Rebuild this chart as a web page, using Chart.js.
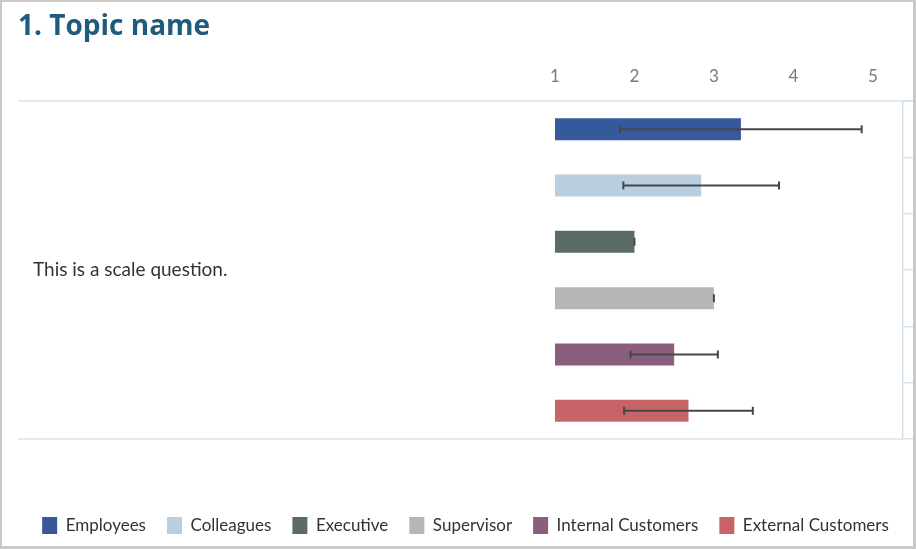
<!DOCTYPE html>
<html>
<head>
<meta charset="utf-8">
<script src="https://cdn.jsdelivr.net/npm/chart.js@4.4.1/dist/chart.umd.min.js"></script>
<style>
  html, body { margin: 0; padding: 0; background: #fff; }
  #wrap {
    width: 916px; height: 549px; box-sizing: border-box;
    border: 2px solid #c9c9c9; border-right-width: 3px; border-bottom-width: 3px;
  }
  #wrap canvas { display: block; }
</style>
</head>
<body>
<div id="wrap"><canvas id="scaleChart" width="911" height="544"></canvas></div>
<script>
// chart data
const topic = '1. Topic name';
const question = 'This is a scale question.';
const groups = ['Employees', 'Colleagues', 'Executive', 'Supervisor', 'Internal Customers', 'External Customers'];
const means = [3.34, 2.84, 2.0, 3.0, 2.5, 2.68];
const spread = [1.52, 0.98, 0, 0, 0.55, 0.81];   // +/- error bar width
const groupColors = ['#35599b', '#b9cedf', '#5b6b65', '#b6b5b7', '#8c5e7d', '#c86468'];
const scaleTicks = [1, 2, 3, 4, 5];

const ruleColor = '#d5e2eb';

// whisker lines on top of each bar
const errorBars = {
    id: 'errorBars',
    afterDatasetsDraw(chart) {
        const {ctx, scales: {x}} = chart;
        ctx.save();
        ctx.strokeStyle = '#474747';
        ctx.lineWidth = 2;
        chart.data.datasets.forEach((ds, i) => {
            if (!chart.isDatasetVisible(i)) return;
            const bar = chart.getDatasetMeta(i).data[i];
            const lo = x.getPixelForValue(means[i] - spread[i]);
            const hi = x.getPixelForValue(means[i] + spread[i]);
            ctx.beginPath();
            ctx.moveTo(lo, bar.y);
            ctx.lineTo(hi, bar.y);
            ctx.moveTo(lo, bar.y - 4);
            ctx.lineTo(lo, bar.y + 4);
            ctx.moveTo(hi, bar.y - 4);
            ctx.lineTo(hi, bar.y + 4);
            ctx.stroke();
        });
        ctx.restore();
    }
};

// table-like rules above and below the bars
const rules = {
    id: 'rules',
    beforeDatasetsDraw(chart) {
        const {ctx, chartArea, scales} = chart;
        const left = scales.pad.left;
        ctx.save();
        ctx.strokeStyle = ruleColor;
        ctx.lineWidth = 1.5;
        ctx.beginPath();
        ctx.moveTo(left, chartArea.top);
        ctx.lineTo(chart.width, chartArea.top);
        ctx.moveTo(left, chartArea.bottom);
        ctx.lineTo(chartArea.right, chartArea.bottom);
        ctx.stroke();
        ctx.restore();
    }
};

Chart.defaults.font.family = 'Lato';

new Chart('scaleChart', {
    type: 'bar',
    data: {
        labels: groups,
        datasets: groups.map((g, i) => ({
            label: g,
            data: groups.map((_, j) => j === i ? means[i] : null),
            backgroundColor: groupColors[i],
            base: 1,
            skipNull: true,
            categoryPercentage: 1,
            barPercentage: 0.39,
        }))
    },
    options: {
        indexAxis: 'y',
        responsive: false,
        animation: false,
        layout: { padding: { left: 16, right: 0, top: 0, bottom: 2 } },
        scales: {
            x: {
                type: 'linear',
                position: 'top',
                min: 1,
                max: 5.38,
                afterBuildTicks: axis => { axis.ticks = scaleTicks.map(v => ({ value: v })); },
                grid: { display: false, drawTicks: false },
                border: { display: false },
                ticks: { color: '#7a7a7a', font: { size: 17 }, padding: 14 }
            },
            y: { type: 'category', display: false, offset: true },
            question: {
                type: 'category',
                axis: 'y',
                position: 'left',
                labels: [question],
                offset: true,
                grid: { display: false, drawTicks: false },
                border: { display: false },
                ticks: { crossAlign: 'far', color: '#333', font: { size: 19 } },
                afterFit: axis => { axis.width = 522; }
            },
            pad: {
                type: 'category',
                axis: 'y',
                position: 'left',
                weight: 1,
                labels: [''],
                grid: { display: false, drawTicks: false },
                border: { display: false },
                ticks: { display: false },
                afterFit: axis => { axis.width = 15; }
            },
            side: {
                type: 'category',
                axis: 'y',
                position: 'right',
                labels: groups,
                offset: true,
                grid: { offset: true, drawOnChartArea: false, color: ruleColor, lineWidth: 1.5, tickLength: 10 },
                border: { color: ruleColor, width: 1.5 },
                ticks: { display: false }
            },
            gap: {
                type: 'linear',
                axis: 'x',
                position: 'bottom',
                grid: { display: false, drawTicks: false },
                border: { display: false },
                ticks: { display: false },
                afterFit: axis => { axis.height = 57; }
            }
        },
        plugins: {
            title: {
                display: true,
                text: topic,
                align: 'start',
                color: '#1f5b7d',
                font: { family: 'Open Sans', size: 28, weight: 'bold' },
                padding: { top: 8, bottom: 9 }
            },
            legend: {
                position: 'bottom',
                labels: {
                    boxWidth: 15,
                    boxHeight: 17,
                    padding: 21,
                    color: '#333',
                    font: { size: 17 }
                }
            },
            tooltip: { enabled: false }
        }
    },
    plugins: [rules, errorBars]
});
</script>
</body>
</html>
